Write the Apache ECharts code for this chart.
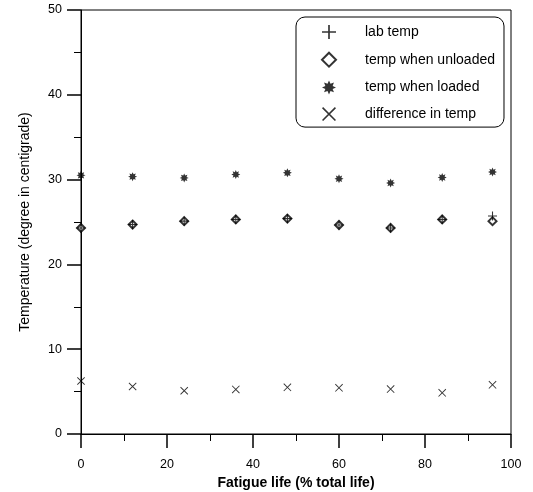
<!DOCTYPE html>
<html>
<head>
<meta charset="utf-8">
<script src="https://cdn.jsdelivr.net/npm/echarts@6/dist/echarts.min.js"></script>
<style>
  html, body { margin: 0; padding: 0; background: #fff; }
  #chart { width: 533px; height: 492px; }
</style>
</head>
<body>
<div id="chart"></div>
<script>
// fatigue life (% total life)
const fatigueLife = [0, 12, 24, 36, 48, 60, 72, 84, 95.7]
const labTemp = [24.3, 24.7, 25.1, 25.3, 25.4, 24.65, 24.3, 25.3, 25.7]
const tempUnloaded = [24.3, 24.7, 25.1, 25.3, 25.4, 24.65, 24.3, 25.3, 25.1]
const tempLoaded = [30.5, 30.35, 30.2, 30.6, 30.8, 30.1, 29.6, 30.25, 30.9]
const tempDiff = [6.25, 5.6, 5.1, 5.25, 5.5, 5.45, 5.3, 4.85, 5.8]

const FONT = 'Liberation Sans'

// marker shapes
const PLUS = 'path://M4.4,0h1.2v10h-1.2z M0,4.4h10v1.2h-10z'
const CROSS = 'path://M0,0.8L0.8,0L10,9.2L9.2,10Z M9.2,0L10,0.8L0.8,10L0,9.2Z'
function asterisk() {
  let d = ''
  for (let i = 0; i < 16; i++) {
    const r = i % 2 === 0 ? 5 : 2.8
    const a = (Math.PI / 8) * i
    d += (i === 0 ? 'M' : 'L') + (5 + r * Math.sin(a)).toFixed(2) + ',' + (5 - r * Math.cos(a)).toFixed(2)
  }
  return 'path://' + d + 'Z'
}
const STAR = asterisk()

const pairs = ys => fatigueLife.map((x, i) => [x, ys[i]])

const chart = echarts.init(document.getElementById('chart'))

chart.setOption({
  animation: false,
  textStyle: { fontFamily: FONT, color: '#000' },
  grid: {
    left: 81,
    right: 22,
    top: 10,
    bottom: 58,
    outerBoundsMode: 'none',
    containLabel: false,
    show: true,
    borderColor: '#000',
    borderWidth: 1,
  },
  legend: {
    orient: 'vertical',
    left: 296,
    top: 17,
    padding: [8, 9, 6, 25],
    itemWidth: 14,
    itemHeight: 14,
    itemGap: 12.7,
    borderColor: '#000',
    borderWidth: 1,
    borderRadius: 9,
    textStyle: { fontFamily: FONT, fontSize: 14, color: '#000', padding: [0, 0, 0, 24] },
    data: ['lab temp', 'temp when unloaded', 'temp when loaded', 'difference in temp'],
  },
  xAxis: {
    type: 'value',
    min: 0,
    max: 100,
    interval: 20,
    name: 'Fatigue life (% total life)',
    nameLocation: 'middle',
    nameGap: 39,
    nameTextStyle: { fontFamily: FONT, fontSize: 14, fontWeight: 'bold', color: '#000' },
    axisLine: { show: true, onZero: false, lineStyle: { color: '#000', width: 1 } },
    axisTick: { show: true, inside: false, length: 14, lineStyle: { color: '#000', width: 1.5 } },
    minorTick: { show: true, splitNumber: 2, length: 7, lineStyle: { color: '#000', width: 1 } },
    axisLabel: { fontFamily: FONT, fontSize: 12.5, color: '#000', margin: 24 },
    splitLine: { show: false },
  },
  yAxis: {
    type: 'value',
    min: 0,
    max: 50,
    interval: 10,
    name: 'Temperature (degree in centigrade)',
    nameLocation: 'middle',
    nameGap: 49,
    nameTextStyle: { fontFamily: FONT, fontSize: 14, color: '#000' },
    axisLine: { show: true, onZero: false, lineStyle: { color: '#000', width: 1 } },
    axisTick: { show: true, inside: false, length: 14, lineStyle: { color: '#000', width: 1.5 } },
    minorTick: { show: true, splitNumber: 2, length: 7, lineStyle: { color: '#000', width: 1 } },
    axisLabel: { fontFamily: FONT, fontSize: 12.5, color: '#000', margin: 19 },
    splitLine: { show: false },
  },
  series: [
    {
      name: 'temp when unloaded',
      type: 'scatter',
      data: pairs(tempUnloaded),
      symbol: 'diamond',
      symbolSize: 8,
      itemStyle: { color: '#fff', borderColor: '#000', borderWidth: 2 },
      z: 2,
    },
    {
      name: 'lab temp',
      type: 'scatter',
      data: pairs(labTemp),
      symbol: PLUS,
      symbolSize: 9,
      itemStyle: { color: '#000' },
      z: 3,
    },
    {
      name: 'temp when loaded',
      type: 'scatter',
      data: pairs(tempLoaded),
      symbol: STAR,
      symbolSize: 9,
      itemStyle: { color: '#000' },
      z: 3,
    },
    {
      name: 'difference in temp',
      type: 'scatter',
      data: pairs(tempDiff),
      symbol: CROSS,
      symbolSize: 8,
      itemStyle: { color: '#000' },
      z: 3,
    },
  ],
})
</script>
</body>
</html>
